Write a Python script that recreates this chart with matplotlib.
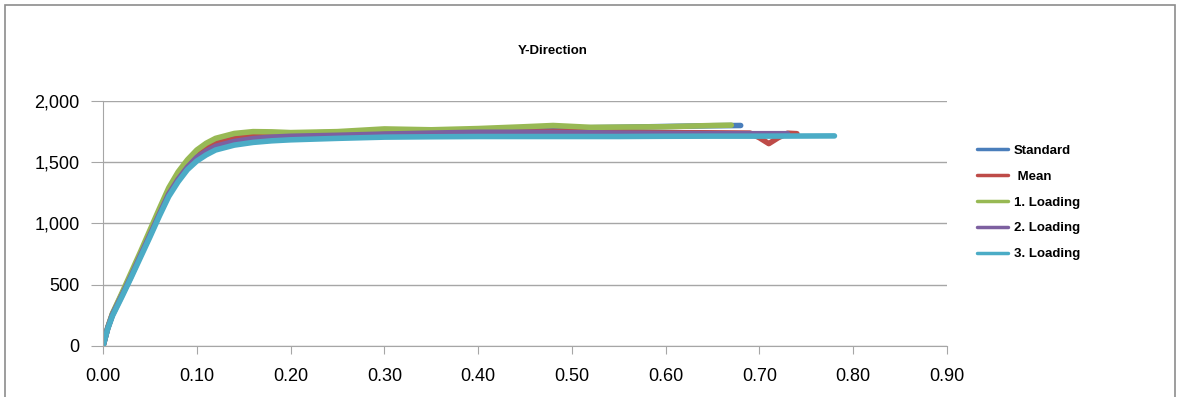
import matplotlib.pyplot as plt
from matplotlib.patches import Rectangle
from matplotlib.ticker import FuncFormatter

# strain values (x) and force values (y)
x_std = [0, 0.005, 0.01, 0.02, 0.03, 0.04, 0.05, 0.06, 0.07, 0.08, 0.09, 0.10, 0.11, 0.12,
         0.14, 0.16, 0.18, 0.20, 0.25, 0.30, 0.35, 0.40, 0.45, 0.50, 0.55, 0.60, 0.65, 0.68]
y_std = [0, 150, 260, 420, 580, 750, 920, 1090, 1260, 1390, 1490, 1570, 1620, 1660,
         1700, 1720, 1730, 1735, 1745, 1755, 1760, 1765, 1775, 1780, 1785, 1792, 1798, 1800]

x_mean = [0, 0.005, 0.01, 0.02, 0.03, 0.04, 0.05, 0.06, 0.07, 0.08, 0.09, 0.10, 0.11, 0.12,
          0.14, 0.16, 0.18, 0.20, 0.25, 0.30, 0.35, 0.40, 0.45, 0.50, 0.55, 0.60, 0.65,
          0.69, 0.70, 0.71, 0.72, 0.73, 0.74]
y_mean = [0, 145, 255, 415, 575, 745, 915, 1085, 1255, 1380, 1480, 1560, 1610, 1650,
          1690, 1712, 1722, 1728, 1735, 1745, 1750, 1752, 1752, 1752, 1748, 1742, 1740,
          1738, 1700, 1652, 1700, 1737, 1733]

x_l1 = [0, 0.005, 0.01, 0.02, 0.03, 0.04, 0.05, 0.06, 0.07, 0.08, 0.09, 0.10, 0.11, 0.12,
        0.14, 0.16, 0.18, 0.20, 0.25, 0.30, 0.35, 0.40, 0.45, 0.48, 0.52, 0.60, 0.65, 0.67]
y_l1 = [0, 150, 265, 430, 600, 770, 945, 1120, 1290, 1420, 1520, 1600, 1655, 1695,
        1735, 1750, 1748, 1742, 1750, 1772, 1765, 1775, 1790, 1800, 1785, 1790, 1800, 1803]

x_l2 = [0, 0.005, 0.01, 0.02, 0.03, 0.04, 0.05, 0.06, 0.07, 0.08, 0.09, 0.10, 0.11, 0.12,
        0.14, 0.16, 0.18, 0.20, 0.25, 0.30, 0.35, 0.40, 0.45, 0.50, 0.55, 0.60, 0.65, 0.73]
y_l2 = [0, 145, 255, 410, 570, 740, 905, 1075, 1240, 1360, 1460, 1540, 1590, 1630,
        1670, 1693, 1705, 1712, 1720, 1730, 1738, 1745, 1745, 1742, 1738, 1735, 1733, 1733]

x_l3 = [0, 0.005, 0.01, 0.02, 0.03, 0.04, 0.05, 0.06, 0.07, 0.08, 0.09, 0.10, 0.11, 0.12,
        0.14, 0.16, 0.18, 0.20, 0.25, 0.30, 0.35, 0.40, 0.45, 0.50, 0.55, 0.60, 0.65, 0.70, 0.78]
y_l3 = [0, 140, 245, 400, 560, 725, 890, 1060, 1220, 1340, 1440, 1510, 1560, 1600,
        1640, 1662, 1675, 1683, 1695, 1705, 1708, 1710, 1710, 1710, 1710, 1712, 1713, 1713, 1715]

series = [
    ('Standard', x_std, y_std, '#4A7EBB'),
    (' Mean', x_mean, y_mean, '#BE4B48'),
    ('1. Loading', x_l1, y_l1, '#98B954'),
    ('2. Loading', x_l2, y_l2, '#7D60A0'),
    ('3. Loading', x_l3, y_l3, '#4BACC6'),
]

plt.rcParams['font.family'] = ['Liberation Sans', 'DejaVu Sans']

fig = plt.figure(figsize=(11.79, 3.97), dpi=100)
ax = fig.add_axes([0.0874, 0.1285, 0.7158, 0.6171])

for name, xs, ys, col in series:
    ax.plot(xs, ys, color=col, lw=4, label=name, solid_capstyle='round', solid_joinstyle='round')

ax.set_xlim(0, 0.9)
ax.set_ylim(0, 2000)
ax.set_xticks([i / 10 for i in range(10)])
ax.set_yticks([0, 500, 1000, 1500, 2000])
ax.xaxis.set_major_formatter(FuncFormatter(lambda v, p: f'{v:.2f}'))
ax.yaxis.set_major_formatter(FuncFormatter(lambda v, p: f'{v:,.0f}'))
ax.grid(axis='y', color='#A6A6A6', lw=1)
ax.set_axisbelow(True)
for s in ['top', 'right']:
    ax.spines[s].set_visible(False)
for s in ['left', 'bottom']:
    ax.spines[s].set_color('#A6A6A6')
ax.tick_params(axis='both', colors='#A6A6A6', labelcolor='black', labelsize=13)
ax.tick_params(axis='x', length=6, pad=10)
ax.tick_params(axis='y', length=9, pad=8)

leg = ax.legend(loc='upper left', bbox_to_anchor=(1.021, 0.87), frameon=False,
                prop={'weight': 'bold', 'size': 9.5}, handlelength=2.4,
                labelspacing=1.03, handletextpad=0.4)
for line in leg.get_lines():
    line.set_linewidth(2.5)

fig.text(0.469, 0.8715, 'Y-Direction', ha='center', va='center', fontsize=9.5, fontweight='bold')

# outer chart frame
fig.patches.append(Rectangle((5 / 1179, -0.05), 1170 / 1179, 1.05 - 5 / 397,
                             transform=fig.transFigure, fill=False,
                             edgecolor='#8C8C8C', lw=1.2))

fig.savefig('out.png', dpi=100)
